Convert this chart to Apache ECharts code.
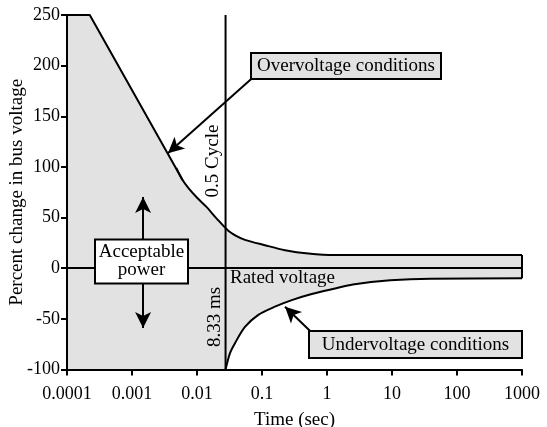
<!DOCTYPE html>
<html>
<head>
<meta charset="utf-8">
<script src="https://cdn.jsdelivr.net/npm/echarts@6/dist/echarts.min.js"></script>
<style>
  html, body { margin: 0; padding: 0; background: #fff; }
  #main { width: 547px; height: 427px; }
</style>
</head>
<body>
<div id="main"></div>
<script>
var FONT = '"Liberation Serif", "Times New Roman", serif';

// tick labels for the log time axis
var xTickLabels = ['0.0001', '0.001', '0.01', '0.1', '1', '10', '100', '1000'];

// overvoltage limit, straight part (upper edge of the grey band)
var overTimeA = [0.0001, 0.000224, 0.006];
var overPctA  = [250,    250,      87];
// overvoltage limit, curved tail (starts a little before the straight part ends)
var overTimeB = [0.0048, 0.006, 0.0075, 0.00995, 0.014, 0.0201, 0.0303, 0.04, 0.0547, 0.111, 0.226, 0.517, 1.33, 3.0, 1000];
var overPctB  = [99,     87,    78.5,   69.8,    60.5,  49,     37,     32,   28,     22.7,  17.8,  14.5,  13,   13,  13];

// undervoltage limit (lower edge of the grey band)
var underTime = [0.0275, 0.0321, 0.0384, 0.0547, 0.0877, 0.158, 0.287, 0.583, 1.33, 2.5, 9.4, 39,    1000];
var underPct  = [-100,   -84,    -74,    -58,    -46,    -38,   -31.5, -25.5, -20,  -16, -12, -10.3, -10];

// 0.5 cycle line (placed where the figure draws it)
var cycleTime = [0.0275, 0.0275];
var cyclePct = [-100, 250];

// right end of the band
var endTime = [1000, 1000];
var endPct = [13, -10];

function pairs(xs, ys) {
  return xs.map(function (x, i) { return [x, ys[i]]; });
}

var chart = echarts.init(document.getElementById('main'));

var blackLine = { color: '#000', width: 2 };
var arrowSize = [12, 16];

chart.setOption({
  animation: false,
  backgroundColor: '#fff',
  grid: { left: 67, right: 25, top: 15, bottom: 57.5, containLabel: false, outerBoundsMode: 'none' },
  xAxis: {
    type: 'log',
    logBase: 10,
    min: 0.0001,
    max: 1000,
    z: 10,
    name: 'Time (sec)',
    nameLocation: 'middle',
    nameGap: 41,
    nameTextStyle: { fontFamily: FONT, fontSize: 19, color: '#000' },
    axisLine: { onZero: false, lineStyle: blackLine },
    axisTick: { length: 6, lineStyle: blackLine },
    splitLine: { show: false },
    minorTick: { show: false },
    axisLabel: {
      fontFamily: FONT, fontSize: 18, color: '#000', margin: 16,
      formatter: function (v) {
        return xTickLabels[Math.round(Math.log10(v)) + 4];
      }
    }
  },
  yAxis: {
    type: 'value',
    min: -100,
    max: 250,
    interval: 50,
    z: 10,
    name: 'Percent change in bus voltage',
    nameLocation: 'middle',
    nameGap: 40,
    nameMoveOverlap: false,
    nameTextStyle: { fontFamily: FONT, fontSize: 19, color: '#000' },
    axisLine: { onZero: false, lineStyle: blackLine },
    axisTick: { length: 6, lineStyle: blackLine },
    splitLine: { show: false },
    axisLabel: { fontFamily: FONT, fontSize: 18, color: '#000', margin: 7 }
  },
  series: [
    {
      name: 'Overvoltage',
      type: 'line',
      data: pairs(overTimeA, overPctA),
      showSymbol: false,
      lineStyle: blackLine,
      areaStyle: { color: '#e2e2e2', opacity: 1, origin: 'start' },
      z: 2
    },
    {
      name: 'Overvoltage tail',
      type: 'line',
      data: pairs(overTimeB, overPctB),
      smooth: 0.3,
      showSymbol: false,
      lineStyle: blackLine,
      areaStyle: { color: '#e2e2e2', opacity: 1, origin: 'start' },
      z: 2
    },
    {
      name: 'Undervoltage',
      type: 'line',
      data: pairs(underTime, underPct),
      smooth: 0.3,
      showSymbol: false,
      lineStyle: blackLine,
      areaStyle: { color: '#fff', opacity: 1, origin: 'start' },
      z: 3
    },
    {
      name: 'Band end',
      type: 'line',
      data: pairs(endTime, endPct),
      showSymbol: false,
      lineStyle: blackLine,
      z: 4
    },
    {
      name: 'Half cycle',
      type: 'line',
      data: pairs(cycleTime, cyclePct),
      showSymbol: false,
      lineStyle: blackLine,
      z: 4,
      markLine: {
        silent: true,
        symbol: ['none', 'none'],
        label: { show: false },
        lineStyle: { color: '#000', width: 2, type: 'solid' },
        data: [
          { yAxis: 0 },
          [{ coord: [0.0676, 186.6], symbol: 'none' }, { coord: [0.00357, 113.5], symbol: 'arrow', symbolSize: arrowSize }],
          [{ coord: [0.555, -62.2], symbol: 'none' }, { coord: [0.226, -38], symbol: 'arrow', symbolSize: arrowSize }],
          [{ coord: [0.00148, 28.6], symbol: 'none' }, { coord: [0.00148, 70.4], symbol: 'arrow', symbolSize: arrowSize }],
          [{ coord: [0.00148, -15], symbol: 'none' }, { coord: [0.00148, -59], symbol: 'arrow', symbolSize: arrowSize }]
        ]
      }
    }
  ],
  graphic: [
    {
      type: 'rect', z: 100,
      shape: { x: 251, y: 53, width: 190, height: 26 },
      style: { fill: '#e2e2e2', stroke: '#000', lineWidth: 2 }
    },
    {
      type: 'text', z: 101, x: 346, y: 66.5,
      style: { text: 'Overvoltage conditions', font: '19px ' + FONT, fill: '#000', align: 'center', verticalAlign: 'middle' }
    },
    {
      type: 'rect', z: 100,
      shape: { x: 309, y: 331, width: 213, height: 27 },
      style: { fill: '#e2e2e2', stroke: '#000', lineWidth: 2 }
    },
    {
      type: 'text', z: 101, x: 415.5, y: 345,
      style: { text: 'Undervoltage conditions', font: '19px ' + FONT, fill: '#000', align: 'center', verticalAlign: 'middle' }
    },
    {
      type: 'rect', z: 100,
      shape: { x: 95, y: 239.5, width: 93, height: 44 },
      style: { fill: '#fff', stroke: '#000', lineWidth: 2 }
    },
    {
      type: 'text', z: 101, x: 141.5, y: 261.5,
      style: { text: 'Acceptable\npower', font: '19px ' + FONT, lineHeight: 18, fill: '#000', align: 'center', verticalAlign: 'middle' }
    },
    {
      type: 'text', z: 101, x: 213, y: 161, rotation: Math.PI / 2,
      style: { text: '0.5 Cycle', font: '19px ' + FONT, fill: '#000', align: 'center', verticalAlign: 'middle' }
    },
    {
      type: 'text', z: 101, x: 215, y: 317, rotation: Math.PI / 2,
      style: { text: '8.33 ms', font: '19px ' + FONT, fill: '#000', align: 'center', verticalAlign: 'middle' }
    },
    {
      type: 'text', z: 101, x: 230, y: 278.5,
      style: { text: 'Rated voltage', font: '19px ' + FONT, fill: '#000', align: 'left', verticalAlign: 'middle' }
    }
  ]
});
</script>
</body>
</html>
